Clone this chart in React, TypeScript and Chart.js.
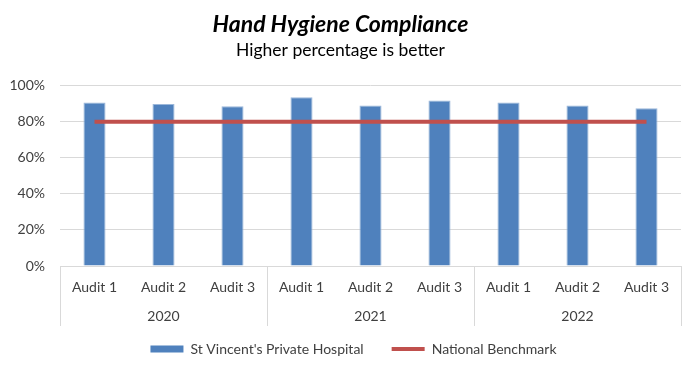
import React, { useEffect, useRef } from "react";
import { Chart, registerables } from "chart.js";

Chart.register(...registerables);

const audits = ["Audit 1", "Audit 2", "Audit 3", "Audit 1", "Audit 2", "Audit 3", "Audit 1", "Audit 2", "Audit 3"];
const years = ["2020", "2021", "2022"];
const hospitalValues = [90.7, 89.8, 88.5, 93.5, 89, 91.7, 90.7, 89, 87.4];
const benchmarkValues = [80, 80, 80, 80, 80, 80, 80, 80, 80];
const yTicks = [0, 20, 40, 60, 80, 100];

const FONT = "Lato";
const TEXT = "#404040";
const GRID = "#d9d9d9";
const BLUE = "#4F81BD";
const RED = "#C0504D";

const separatorPlugin = {
  id: "separators",
  afterLayout(chart: any) {
    const lg = chart.legend;
    if (lg) {
      lg.top -= 12;
      lg.bottom -= 12;
      lg.left += 13;
      lg.right += 13;
    }
  },
  afterDraw(chart: any) {
    const x = chart.scales.x;
    const x2 = chart.scales.x2;
    const ctx = chart.ctx;
    const n = audits.length;
    const per = n / years.length;
    const step = (x.right - x.left) / n;
    ctx.save();
    ctx.strokeStyle = GRID;
    ctx.lineWidth = 1;
    for (let g = 0; g <= years.length; g++) {
      const px = Math.round(x.left + g * per * step) + 0.5;
      ctx.beginPath();
      ctx.moveTo(px, x.top);
      ctx.lineTo(px, x2.bottom);
      ctx.stroke();
    }
    ctx.restore();
  },
};

export default function App() {
  const ref = useRef<HTMLCanvasElement>(null);
  useEffect(() => {
    document.body.style.margin = "0";
    const chart = new Chart(ref.current!, {
      type: "bar",
      data: {
        labels: audits,
        datasets: [
          {
            type: "bar",
            label: "St Vincent's Private Hospital",
            data: hospitalValues,
            backgroundColor: BLUE,
            borderColor: "#9bb7da",
            borderWidth: 1,
            categoryPercentage: 1,
            barPercentage: 0.32,
            order: 2,
          },
          {
            type: "line",
            label: "National Benchmark",
            data: benchmarkValues,
            borderColor: RED,
            backgroundColor: RED,
            borderWidth: 4,
            pointRadius: 0,
            order: 1,
          } as any,
        ],
      },
      options: {
        animation: false,
        responsive: false,
        layout: { padding: { left: 0, right: 19, top: 0, bottom: -4 } },
        plugins: {
          title: {
            display: true,
            text: "Hand Hygiene Compliance",
            color: "#000",
            font: { family: FONT, size: 23, weight: "bold", style: "italic" },
            padding: { top: 11, bottom: 1 },
          },
          subtitle: {
            display: true,
            text: "Higher percentage is better",
            color: "#000",
            font: { family: FONT, size: 17.5 },
            padding: { top: 0, bottom: 25 },
          },
          legend: {
            position: "bottom",
            labels: {
              font: { family: FONT, size: 14 },
              color: TEXT,
              usePointStyle: true,
              pointStyleWidth: 33,
              boxHeight: 7,
              padding: 28,
              generateLabels: () => [
                { text: "St Vincent's Private Hospital", fillStyle: BLUE, strokeStyle: BLUE, lineWidth: 0, pointStyle: "rect", datasetIndex: 0, fontColor: TEXT } as any,
                { text: "National Benchmark", fillStyle: RED, strokeStyle: RED, lineWidth: 4, pointStyle: "line", datasetIndex: 1, fontColor: TEXT } as any,
              ],
            },
          },
          tooltip: { enabled: false },
        },
        scales: {
          x: {
            type: "category",
            position: "bottom",
            afterFit: (s: any) => { s.height = 30; },
            grid: { display: false, drawTicks: false },
            border: { display: true, color: GRID },
            ticks: { font: { family: FONT, size: 14 }, color: TEXT, padding: 13, maxRotation: 0, autoSkip: false },
          },
          x2: {
            type: "category",
            position: "bottom",
            labels: years,
            offset: true,
            afterFit: (s: any) => { s.height = 30; },
            grid: { display: false, drawTicks: false },
            border: { display: false },
            ticks: { font: { family: FONT, size: 14 }, color: TEXT, padding: 12, maxRotation: 0 },
          },
          y: {
            min: 0,
            max: 100,
            afterFit: (s: any) => { s.width = 60; },
            afterBuildTicks: (s: any) => { s.ticks = yTicks.map((v) => ({ value: v })); },
            grid: { color: GRID, drawTicks: false },
            border: { display: false },
            ticks: { font: { family: FONT, size: 14 }, color: TEXT, padding: 15, callback: (v: any) => v + "%" },
          },
        },
      },
      plugins: [separatorPlugin],
    });
    return () => chart.destroy();
  }, []);
  return <canvas ref={ref} width={700} height={374} style={{ display: "block" }} />;
}
